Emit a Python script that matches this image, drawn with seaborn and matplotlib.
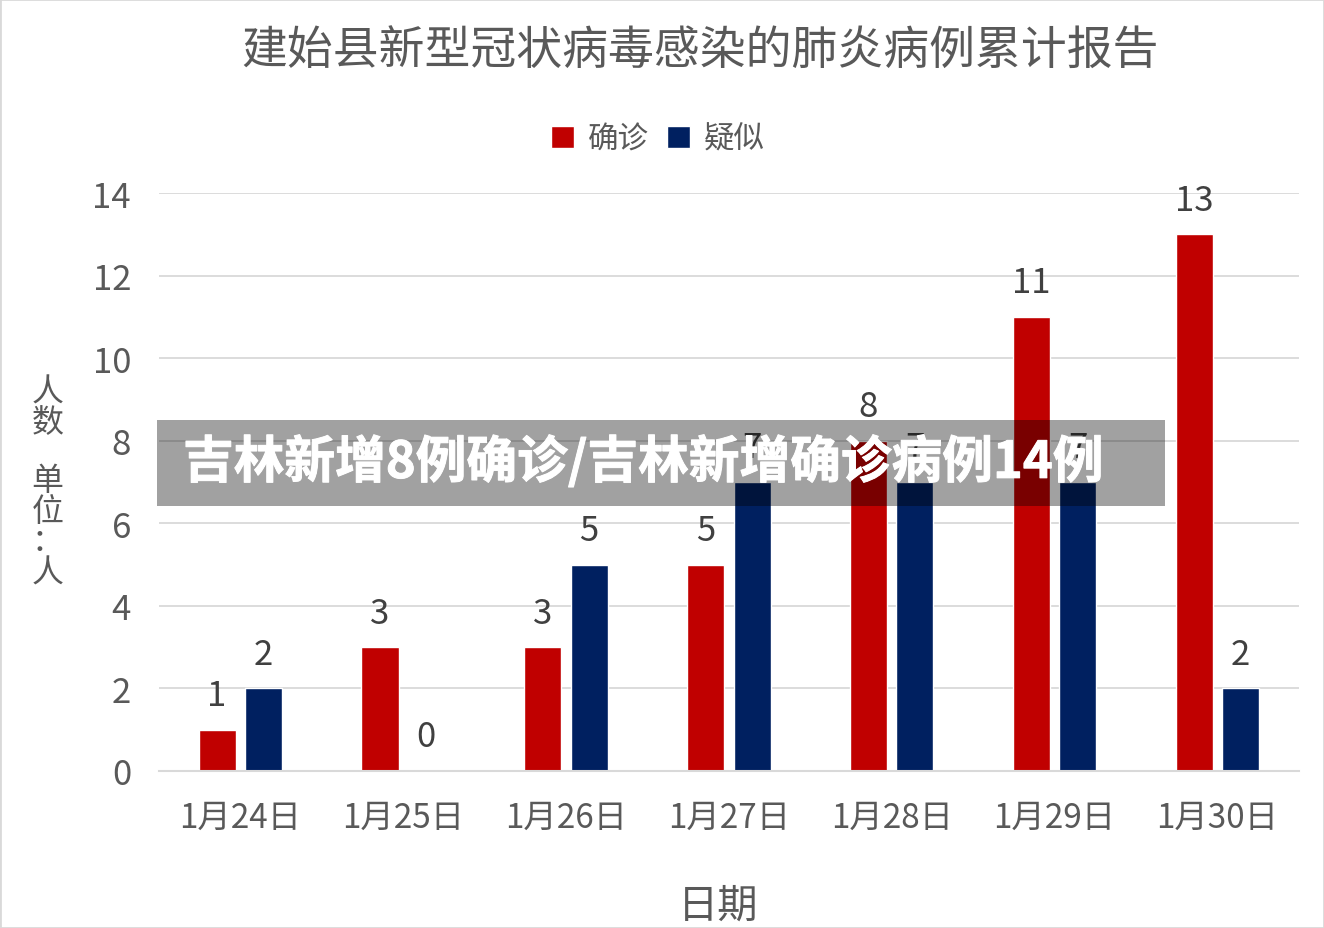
import numpy as np
import pandas as pd
import seaborn as sns
import matplotlib
matplotlib.use("Agg")
from matplotlib import pyplot as plt
from matplotlib.patches import Rectangle
import matplotlib.patheffects as pe

dates = ["1月24日", "1月25日", "1月26日", "1月27日", "1月28日", "1月29日", "1月30日"]
confirmed = [1, 3, 3, 5, 8, 11, 13]
suspected = [2, 0, 5, 7, 7, 7, 2]
series_names = ["确诊", "疑似"]
colors = ["#C00000", "#002060"]

df = pd.DataFrame({
    "date": dates * 2,
    "count": confirmed + suspected,
    "type": [series_names[0]] * len(dates) + [series_names[1]] * len(dates),
})

sns.set_style("white")
plt.rcParams["font.family"] = ["Noto Sans CJK SC", "DejaVu Sans"]
txt = "#595959"
grid = "#D9D9D9"

fig = plt.figure(figsize=(13.24, 9.29), dpi=100)
ax = fig.add_axes([0.120, 0.169, 0.861, 0.622])

sns.barplot(data=df, x="date", y="count", hue="type", palette=colors,
            saturation=1, width=0.57, gap=0.2, ax=ax, legend=True)

ax.set_ylim(0, 14)
ax.set_xlim(-0.5, len(dates) - 0.5)
ax.set_yticks(np.arange(0, 15, 2))
ax.yaxis.grid(True, color=grid, linewidth=1.3)
ax.set_axisbelow(True)
for s in ["top", "right", "left"]:
    ax.spines[s].set_visible(False)
ax.spines["bottom"].set_color(grid)
ax.spines["bottom"].set_linewidth(1.5)

ax.set_xticks(np.arange(-0.5, len(dates)), minor=True)
ax.tick_params(axis="x", which="minor", length=8, width=1.5, color=grid)
ax.tick_params(axis="x", which="major", length=0, pad=21, labelsize=24, labelcolor=txt)
ax.tick_params(axis="y", length=0, pad=20, labelsize=25, labelcolor=txt)

for c in ax.containers:
    ax.bar_label(c, padding=12, fontsize=25, color="#404040")

ax.set_xlabel("日期", fontsize=29, color=txt, labelpad=36)
ax.xaxis.label.set_x((718 - 159) / 1140)
ax.set_ylabel("")
fig.text(0.036, 1 - 408 / 929, "人\n数", fontsize=23, color=txt,
         ha="center", va="center", linespacing=0.95)
fig.text(0.036, 1 - 527 / 929, "单\n位\n：\n人", fontsize=23, color=txt,
         ha="center", va="center", linespacing=0.95)

fig.text(0.529, 0.944, "建始县新型冠状病毒感染的肺炎病例累计报告", fontsize=33,
         color=txt, ha="center", va="center")

ax.legend_.remove()
h, l = ax.get_legend_handles_labels()
fig.legend(h, l, loc="center", bbox_to_anchor=(0.497, 0.849), ncol=2, frameon=False,
           fontsize=22, labelcolor=txt, handlelength=0.75, handleheight=0.75,
           handletextpad=0.45, columnspacing=0.6)

# grey overlay banner
fig.patches.append(Rectangle((157 / 1324, 1 - 507 / 929), 1008 / 1324, 86 / 929,
                             transform=fig.transFigure, facecolor="black",
                             alpha=0.37, edgecolor="none", zorder=5))
fig.text(183 / 1324, 1 - 463 / 929, "吉林新增8例确诊/吉林新增确诊病例14例",
         fontsize=36.5, fontweight="heavy", color="white", ha="left", va="center",
         zorder=6, path_effects=[pe.withStroke(linewidth=0.7, foreground="white")])

fig.patches.append(Rectangle((0, 0), 1, 1, transform=fig.transFigure,
                             facecolor="none", edgecolor=grid, linewidth=2))

fig.savefig("out.png", dpi=100)
